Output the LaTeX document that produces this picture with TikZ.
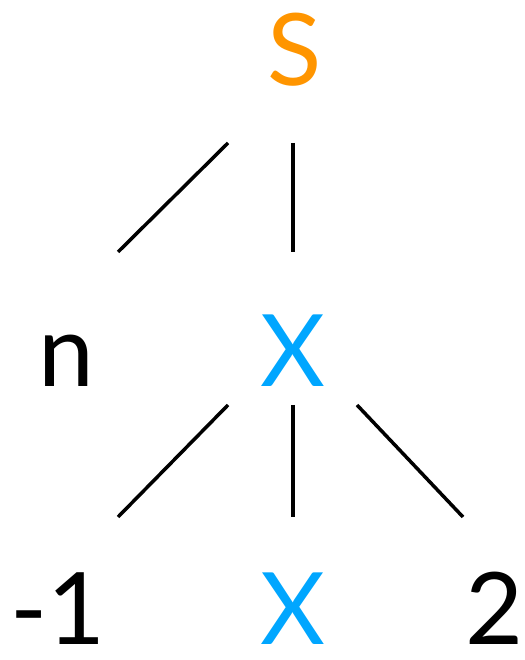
\documentclass[tikz,border=0pt]{standalone}
\usepackage{fontspec}
\setmainfont{Lato}
\definecolor{sorange}{HTML}{FF9500}
\definecolor{xblue}{HTML}{00A6FF}
\begin{document}
\begin{tikzpicture}[x=1pt,y=1pt,
  lbl/.style={font=\fontsize{100}{100}\selectfont, inner sep=0pt, anchor=base},
  edge/.style={line width=3.5pt}]
\useasboundingbox (0,0) rectangle (524,660);
\node[lbl, text=sorange] (S) at (295,574) {S};
\node[lbl] (n) at (66,273) {n};
\node[lbl, text=xblue] (X1) at (293,273) {X};
\node[lbl] (m1) at (58,15) {-1};
\node[lbl, text=xblue] (X2) at (293,15) {X};
\node[lbl] (two) at (494,15) {2};
\coordinate (a1) at (228,517); \coordinate (a2) at (118,408);
\coordinate (b1) at (293,517); \coordinate (b2) at (293,408);
\coordinate (c1) at (228,255); \coordinate (c2) at (118,143);
\coordinate (d1) at (293,255); \coordinate (d2) at (293,143);
\coordinate (e1) at (357,255); \coordinate (e2) at (463,143);
\draw[edge] (a1) -- (a2);
\draw[edge] (b1) -- (b2);
\draw[edge] (c1) -- (c2);
\draw[edge] (d1) -- (d2);
\draw[edge] (e1) -- (e2);
\end{tikzpicture}
\end{document}
